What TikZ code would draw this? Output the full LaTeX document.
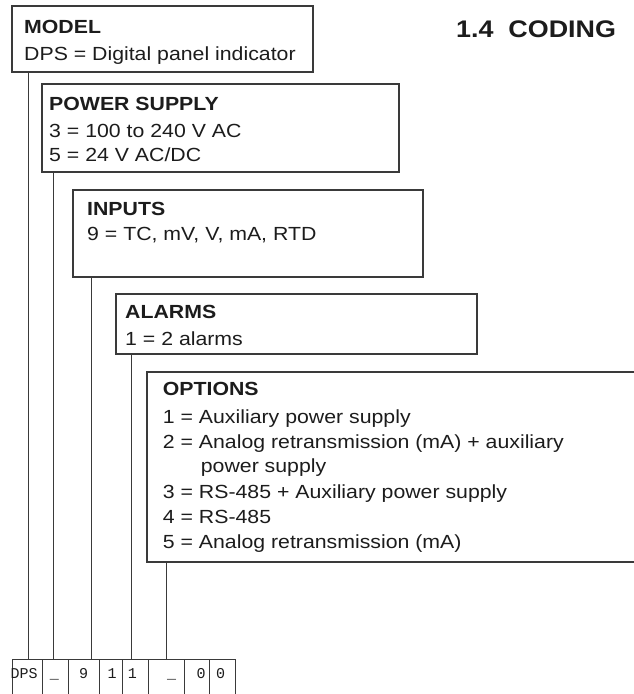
\documentclass[tikz,border=0pt]{standalone}
\usepackage{fontspec}
\setmainfont{Liberation Sans}[FakeStretch=1.12]
\setmonofont{Liberation Mono}
\definecolor{linec}{HTML}{3A3A3A}
\definecolor{textc}{HTML}{1C1C1C}
\begin{document}
\begin{tikzpicture}[x=1pt,y=-1pt,
  box/.style={draw=linec, line width=1.1pt, rectangle, anchor=north west, inner sep=0pt, outer sep=0pt},
  txt/.style={anchor=base west, inner sep=0pt, font=\fontsize{19}{23}\selectfont, text=textc},
  head/.style={anchor=base west, inner sep=0pt, font=\fontsize{19}{23}\selectfont\bfseries, text=textc},
  cellbox/.style={draw=linec, line width=0.9pt, rectangle, anchor=north west, inner sep=0pt, outer sep=0pt, minimum height=60pt},
  celltxt/.style={anchor=base, inner sep=0pt, font=\fontsize{15}{15}\selectfont\ttfamily, text=textc},
  conn/.style={draw=linec, line width=1pt}]
\useasboundingbox (0,0) rectangle (634,694);
\clip (0,0) rectangle (634,694);

% title
\node[anchor=base west, inner sep=0pt, font=\fontsize{24}{24}\selectfont\bfseries, text=textc] (title) at (456,37) {1.4\ \ CODING};

% boxes
\node[box, minimum width=301pt, minimum height=66pt] (model) at (12,6) {};
\node[box, minimum width=357pt, minimum height=88pt] (power) at (42,84) {};
\node[box, minimum width=350pt, minimum height=87pt] (inputs) at (73,190) {};
\node[box, minimum width=361pt, minimum height=60pt] (alarms) at (116,294) {};
\node[box, minimum width=520pt, minimum height=190pt] (options) at (147,372) {};

% texts
\node[head] (tm0) at (24,33) {MODEL};
\node[txt]  (tm1) at (24,60) {DPS = Digital panel indicator};

\node[head] (tp0) at (49,110.7) {POWER SUPPLY};
\node[txt]  (tp1) at (49,137.3) {3 = 100 to 240 V AC};
\node[txt]  (tp2) at (49,161.3) {5 = 24 V AC/DC};

\node[head] (ti0) at (87,215) {INPUTS};
\node[txt]  (ti1) at (87,240.7) {9 = TC, mV, V, mA, RTD};

\node[head] (ta0) at (125,318.3) {ALARMS};
\node[txt]  (ta1) at (125,345) {1 = 2 alarms};

\node[head] (to0) at (162.7,395) {OPTIONS};
\node[txt]  (to1) at (162.7,423) {1 = Auxiliary power supply};
\node[txt]  (to2) at (162.7,448) {2 = Analog retransmission (mA) + auxiliary};
\node[txt]  (to2b) at (200.7,472) {power supply};
\node[txt]  (to3) at (162.7,498) {3 = RS-485 + Auxiliary power supply};
\node[txt]  (to4) at (162.7,523) {4 = RS-485};
\node[txt]  (to5) at (162.7,548) {5 = Analog retransmission (mA)};

% code cells
\node[cellbox, minimum width=30pt] (c1) at (12,659) {};
\node[cellbox, minimum width=26pt] (c2) at (42,659) {};
\node[cellbox, minimum width=31pt] (c3) at (68,659) {};
\node[cellbox, minimum width=23pt] (c4) at (99,659) {};
\node[cellbox, minimum width=26pt] (c5) at (122,659) {};
\node[cellbox, minimum width=36pt] (c6) at (148,659) {};
\node[cellbox, minimum width=25pt] (c7) at (184,659) {};
\node[cellbox, minimum width=26pt] (c8) at (209,659) {};

\node[celltxt, anchor=base west] (d1) at (10.5,678) {DPS};
\node[celltxt] (d2) at (54.3,678) {\_};
\node[celltxt] (d3) at (83.7,678) {9};
\node[celltxt] (d4) at (112,678) {1};
\node[celltxt] (d5) at (132.4,678) {1};
\node[celltxt] (d6) at (171.7,678) {\_};
\node[celltxt] (d7) at (201,678) {0};
\node[celltxt] (d8) at (220.5,678) {0};

% connector end points
\coordinate (k1) at (28,659);
\coordinate (k2) at (53,659);
\coordinate (k3) at (91.5,659);
\coordinate (k4) at (131.5,659);
\coordinate (k5) at (166.5,659);

\draw[conn] (k1 |- model.south) -- (k1);
\draw[conn] (k2 |- power.south) -- (k2);
\draw[conn] (k3 |- inputs.south) -- (k3);
\draw[conn] (k4 |- alarms.south) -- (k4);
\draw[conn] (k5 |- options.south) -- (k5);
\end{tikzpicture}
\end{document}
